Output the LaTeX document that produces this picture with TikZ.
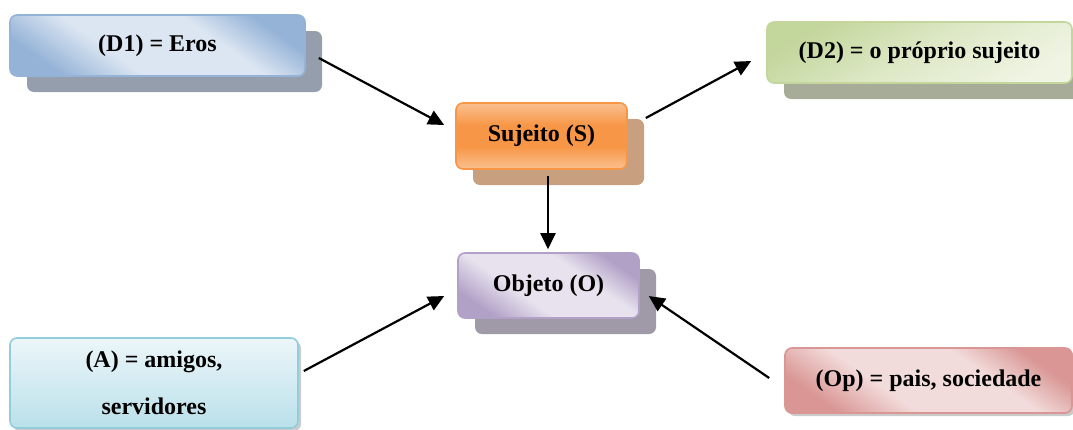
\documentclass[tikz,border=0pt]{standalone}
\usepackage{fontspec}
\setmainfont{Liberation Serif}
\usetikzlibrary{arrows.meta,shadows}

\definecolor{bluedark}{HTML}{95B3D7}
\definecolor{bluelight}{HTML}{DCE6F2}
\definecolor{blueshadow}{RGB}{148,158,172}
\definecolor{orangedark}{HTML}{F79646}
\definecolor{orangelight}{HTML}{FAC090}
\definecolor{orangeshadow}{RGB}{200,160,128}
\definecolor{purpledark}{HTML}{B2A1C7}
\definecolor{purplelight}{HTML}{E7E2EE}
\definecolor{purpleshadow}{RGB}{160,154,168}
\definecolor{greendark}{HTML}{C3D69B}
\definecolor{greenlight}{HTML}{EFF4E3}
\definecolor{greenshadow}{RGB}{166,172,152}
\definecolor{aquadark}{HTML}{92CDDC}
\definecolor{aquatop}{RGB}{236,246,249}
\definecolor{aquabottom}{RGB}{186,224,234}
\definecolor{reddark}{HTML}{D99694}
\definecolor{redlight}{HTML}{F2DCDB}

% band shadings: darker at both ends, wide light middle
\pgfdeclareverticalshading{blueband}{100bp}{
  color(0bp)=(bluedark); color(25bp)=(bluedark); color(40bp)=(bluelight);
  color(62bp)=(bluelight); color(75bp)=(bluedark); color(100bp)=(bluedark)}
\pgfdeclareverticalshading{purpleband}{100bp}{
  color(0bp)=(purpledark); color(25bp)=(purpledark); color(40bp)=(purplelight);
  color(62bp)=(purplelight); color(75bp)=(purpledark); color(100bp)=(purpledark)}
\pgfdeclareverticalshading{redband}{100bp}{
  color(0bp)=(reddark); color(25bp)=(reddark); color(40bp)=(redlight);
  color(62bp)=(redlight); color(75bp)=(reddark); color(100bp)=(reddark)}
\pgfdeclareverticalshading{greenband}{100bp}{
  color(0bp)=(greenlight); color(25bp)=(greenlight); color(50bp)=(greenlight!60!greendark);
  color(75bp)=(greendark); color(100bp)=(greendark)}
\pgfdeclareverticalshading{orangeband}{100bp}{
  color(0bp)=(orangelight); color(25bp)=(orangelight); color(42bp)=(orangedark);
  color(58bp)=(orangedark); color(75bp)=(orangelight); color(100bp)=(orangelight)}

\tikzset{
  box/.style={rounded corners=7pt, line width=1.6pt, inner sep=0pt,
    align=center, font=\fontsize{24}{47}\selectfont\bfseries},
  bigshadow/.style={drop shadow={shadow xshift=17pt, shadow yshift=-16pt,
    opacity=1, fill=#1}},
  smallshadow/.style={drop shadow={shadow xshift=3pt, shadow yshift=-3pt,
    opacity=0.45, fill=black!45}},
  arr/.style={line width=2.2pt, -{Triangle[length=16pt,width=15pt]}}
}

\begin{document}
\begin{tikzpicture}[x=1pt,y=1pt]
\useasboundingbox (0,0) rectangle (1073,-429);

% boxes
\node[box, bigshadow=blueshadow, draw=bluedark,
  shading=blueband, shading angle=-35, minimum width=295pt, minimum height=61pt]
  (d1) at (157.5,-45.5) {(D1) = Eros};

\node[box, bigshadow=orangeshadow, draw=orangedark,
  shading=orangeband, minimum width=171pt, minimum height=66pt]
  (s) at (541.5,-136) {Sujeito (S)};

\node[box, bigshadow=purpleshadow, draw=purpledark,
  shading=purpleband, shading angle=-35, minimum width=181pt, minimum height=65pt]
  (o) at (548.5,-285.5) {Objeto (O)};

\node[box, bigshadow=greenshadow, draw=greendark,
  shading=greenband, shading angle=30, minimum width=305pt, minimum height=61pt]
  (d2) at (919.5,-52.5) {(D2) = o próprio sujeito};

\node[box, smallshadow, draw=aquadark,
  top color=aquatop, bottom color=aquabottom,
  minimum width=288pt, minimum height=90pt]
  (a) at (154,-383) {(A) = amigos,\\servidores};

\node[box, smallshadow, draw=reddark,
  shading=redband, shading angle=-35, minimum width=287pt, minimum height=65pt]
  (op) at (928.5,-380.5) {(Op) = pais, sociedade};

% connectors
\draw[arr] ([shift={(13pt,-12.5pt)}]d1.east) -- ([shift={(-11pt,11pt)}]s.west);
\draw[arr] ([shift={(18pt,18pt)}]s.east) -- ([shift={(-15pt,-8.5pt)}]d2.west);
\draw[arr] ([shift={(6.5pt,-6pt)}]s.south) -- ([shift={(-0.5pt,3pt)}]o.north);
\draw[arr] ([shift={(5pt,12pt)}]a.east) -- ([shift={(-13pt,-10.5pt)}]o.west);
\draw[arr] ([shift={(-15pt,2.5pt)}]op.west) -- ([shift={(9pt,-10.5pt)}]o.east);
\end{tikzpicture}
\end{document}
